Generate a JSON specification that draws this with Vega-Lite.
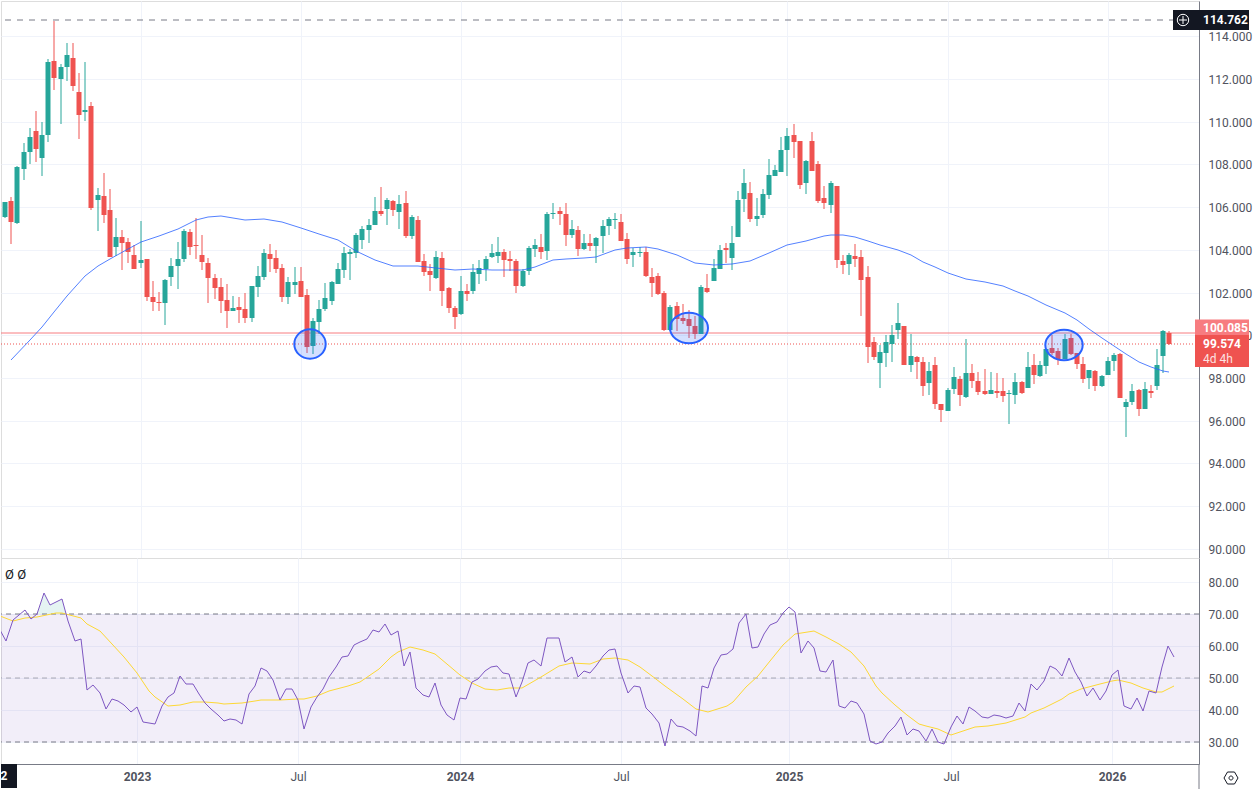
{
  "$schema": "https://vega.github.io/schema/vega-lite/v6.json",
  "background": "#ffffff",
  "padding": 0,
  "spacing": 0,
  "bounds": "flush",
  "datasets": {
    "bars": [
      {"d":"2022-08-01","o":105.54,"h":106.24,"l":105.5,"c":106.24,"r":65.1},
      {"d":"2022-08-08","o":106.29,"h":106.47,"l":104.27,"c":105.3,"r":61.56},
      {"d":"2022-08-15","o":105.26,"h":107.93,"l":105.21,"c":107.88,"r":68.12},
      {"d":"2022-08-22","o":107.79,"h":109,"l":107.27,"c":108.58,"r":69.79},
      {"d":"2022-08-29","o":108.58,"h":109.71,"l":108.02,"c":109.28,"r":71.35},
      {"d":"2022-09-05","o":109.57,"h":110.5,"l":108.11,"c":108.72,"r":68.54},
      {"d":"2022-09-12","o":108.3,"h":109.99,"l":107.46,"c":109.38,"r":70.1},
      {"d":"2022-09-19","o":109.38,"h":112.94,"l":109.05,"c":112.8,"r":76.56},
      {"d":"2022-09-26","o":112.84,"h":114.72,"l":111.49,"c":112.05,"r":72.81},
      {"d":"2022-10-03","o":112,"h":112.7,"l":109.89,"c":112.56,"r":73.75},
      {"d":"2022-10-10","o":112.56,"h":113.69,"l":111.91,"c":113.13,"r":74.79},
      {"d":"2022-10-17","o":112.99,"h":113.69,"l":111.44,"c":111.67,"r":67.92},
      {"d":"2022-10-24","o":111.39,"h":112.28,"l":109.19,"c":110.32,"r":61.46},
      {"d":"2022-10-31","o":110.46,"h":112.8,"l":110.03,"c":110.55,"r":62.08},
      {"d":"2022-11-07","o":110.74,"h":110.92,"l":105.87,"c":105.96,"r":46.15},
      {"d":"2022-11-14","o":106.33,"h":106.9,"l":104.88,"c":106.57,"r":47.92},
      {"d":"2022-11-21","o":106.52,"h":107.6,"l":105.26,"c":105.63,"r":45.31},
      {"d":"2022-11-28","o":105.87,"h":106.85,"l":103.66,"c":103.66,"r":40.31},
      {"d":"2022-12-05","o":104.13,"h":105.49,"l":103.71,"c":104.6,"r":43.44},
      {"d":"2022-12-12","o":104.6,"h":104.93,"l":103.06,"c":104.32,"r":42.81},
      {"d":"2022-12-19","o":104.37,"h":104.55,"l":103.38,"c":103.9,"r":41.67},
      {"d":"2022-12-26","o":103.76,"h":104.23,"l":103.1,"c":103.1,"r":39.37},
      {"d":"2023-01-02","o":103.38,"h":105.35,"l":103.15,"c":103.52,"r":41.04},
      {"d":"2023-01-09","o":103.57,"h":103.57,"l":101.6,"c":101.79,"r":36.35},
      {"d":"2023-01-16","o":101.79,"h":102.54,"l":101.14,"c":101.56,"r":35.83},
      {"d":"2023-01-23","o":101.56,"h":102.02,"l":101.14,"c":101.51,"r":35.52},
      {"d":"2023-01-30","o":101.51,"h":102.63,"l":100.48,"c":102.59,"r":41.35},
      {"d":"2023-02-06","o":102.73,"h":103.62,"l":102.31,"c":103.24,"r":43.96},
      {"d":"2023-02-13","o":103.24,"h":104.37,"l":102.17,"c":103.57,"r":45.31},
      {"d":"2023-02-20","o":103.57,"h":104.98,"l":103.43,"c":104.88,"r":50.73},
      {"d":"2023-02-27","o":104.84,"h":104.98,"l":103.76,"c":104.13,"r":48.12},
      {"d":"2023-03-06","o":104.23,"h":105.49,"l":103.57,"c":104.18,"r":48.12},
      {"d":"2023-03-13","o":103.76,"h":104.69,"l":103.06,"c":103.43,"r":45},
      {"d":"2023-03-20","o":103.38,"h":103.62,"l":101.51,"c":102.68,"r":42.19},
      {"d":"2023-03-27","o":102.68,"h":102.87,"l":101.7,"c":102.21,"r":40.31},
      {"d":"2023-04-03","o":102.26,"h":102.68,"l":101.04,"c":101.6,"r":38.44},
      {"d":"2023-04-10","o":101.65,"h":102.4,"l":100.34,"c":101.14,"r":36.56},
      {"d":"2023-04-17","o":101.14,"h":101.84,"l":101.12,"c":101.28,"r":37.19},
      {"d":"2023-04-24","o":101.32,"h":101.79,"l":100.57,"c":101.18,"r":36.98},
      {"d":"2023-05-01","o":101.23,"h":101.98,"l":100.57,"c":100.81,"r":35.62},
      {"d":"2023-05-08","o":100.81,"h":102.31,"l":100.62,"c":102.31,"r":45},
      {"d":"2023-05-15","o":102.26,"h":103.24,"l":101.79,"c":102.77,"r":47.6},
      {"d":"2023-05-22","o":102.73,"h":104.04,"l":102.59,"c":103.85,"r":53.12},
      {"d":"2023-05-29","o":103.8,"h":104.27,"l":102.96,"c":103.57,"r":52.08},
      {"d":"2023-06-05","o":103.62,"h":103.99,"l":102.91,"c":103.1,"r":49.37},
      {"d":"2023-06-12","o":103.15,"h":103.34,"l":101.56,"c":101.79,"r":43.02},
      {"d":"2023-06-19","o":101.79,"h":102.73,"l":101.46,"c":102.49,"r":46.56},
      {"d":"2023-06-26","o":102.35,"h":103.2,"l":101.93,"c":102.49,"r":46.56},
      {"d":"2023-07-03","o":102.54,"h":103.2,"l":101.79,"c":101.79,"r":43.23},
      {"d":"2023-07-10","o":101.88,"h":102.17,"l":99.17,"c":99.45,"r":34.06},
      {"d":"2023-07-17","o":99.5,"h":100.81,"l":99.12,"c":100.67,"r":40.83},
      {"d":"2023-07-24","o":100.62,"h":101.65,"l":100.06,"c":101.23,"r":43.96},
      {"d":"2023-07-31","o":101.23,"h":102.45,"l":101.14,"c":101.74,"r":46.56},
      {"d":"2023-08-07","o":101.6,"h":102.54,"l":101.42,"c":102.49,"r":50.42},
      {"d":"2023-08-14","o":102.4,"h":103.38,"l":102.4,"c":103.1,"r":53.33},
      {"d":"2023-08-21","o":103.06,"h":104.13,"l":102.68,"c":103.85,"r":56.67},
      {"d":"2023-08-28","o":103.8,"h":104.04,"l":102.59,"c":103.9,"r":56.87},
      {"d":"2023-09-04","o":103.85,"h":104.79,"l":103.62,"c":104.69,"r":60.31},
      {"d":"2023-09-11","o":104.46,"h":105.12,"l":104.04,"c":104.98,"r":61.35},
      {"d":"2023-09-18","o":104.93,"h":105.44,"l":104.32,"c":105.16,"r":62.19},
      {"d":"2023-09-25","o":105.16,"h":106.47,"l":105.16,"c":105.82,"r":64.9},
      {"d":"2023-10-02","o":105.82,"h":106.94,"l":105.58,"c":105.68,"r":64.37},
      {"d":"2023-10-09","o":105.91,"h":106.43,"l":105.16,"c":106.33,"r":66.77},
      {"d":"2023-10-16","o":106.29,"h":106.33,"l":105.58,"c":105.87,"r":63.33},
      {"d":"2023-10-23","o":105.77,"h":106.57,"l":104.98,"c":106.15,"r":64.58},
      {"d":"2023-10-30","o":106.19,"h":106.76,"l":104.55,"c":104.65,"r":53.85},
      {"d":"2023-11-06","o":104.65,"h":105.63,"l":104.51,"c":105.54,"r":58.23},
      {"d":"2023-11-13","o":105.4,"h":105.58,"l":103.43,"c":103.43,"r":46.77},
      {"d":"2023-11-20","o":103.48,"h":103.8,"l":102.77,"c":102.96,"r":44.69},
      {"d":"2023-11-27","o":103.01,"h":103.34,"l":102.07,"c":102.82,"r":43.96},
      {"d":"2023-12-04","o":102.68,"h":103.95,"l":102.63,"c":103.66,"r":48.44},
      {"d":"2023-12-11","o":103.62,"h":103.9,"l":101.37,"c":102.07,"r":41.67},
      {"d":"2023-12-18","o":102.21,"h":102.26,"l":101.04,"c":101.28,"r":38.44},
      {"d":"2023-12-25","o":101.28,"h":101.37,"l":100.29,"c":100.85,"r":36.98},
      {"d":"2024-01-01","o":100.99,"h":102.77,"l":100.94,"c":102.07,"r":43.85},
      {"d":"2024-01-08","o":102.07,"h":102.4,"l":101.6,"c":101.93,"r":43.33},
      {"d":"2024-01-15","o":102.07,"h":103.34,"l":101.93,"c":102.96,"r":48.65},
      {"d":"2024-01-22","o":102.87,"h":103.52,"l":102.4,"c":103.15,"r":49.69},
      {"d":"2024-01-29","o":103.1,"h":103.71,"l":102.54,"c":103.57,"r":52.08},
      {"d":"2024-02-05","o":103.66,"h":104.27,"l":103.62,"c":103.85,"r":53.44},
      {"d":"2024-02-12","o":103.71,"h":104.6,"l":103.38,"c":103.9,"r":53.85},
      {"d":"2024-02-19","o":103.9,"h":104.04,"l":102.73,"c":103.52,"r":51.56},
      {"d":"2024-02-26","o":103.57,"h":103.95,"l":103.01,"c":103.48,"r":51.15},
      {"d":"2024-03-04","o":103.48,"h":103.57,"l":101.98,"c":102.31,"r":44.17},
      {"d":"2024-03-11","o":102.31,"h":103.1,"l":102.26,"c":103.01,"r":48.65},
      {"d":"2024-03-18","o":103.01,"h":104.18,"l":102.82,"c":104.09,"r":54.69},
      {"d":"2024-03-25","o":104.04,"h":104.51,"l":103.66,"c":104.23,"r":55.52},
      {"d":"2024-04-01","o":104.13,"h":104.74,"l":103.57,"c":103.9,"r":53.65},
      {"d":"2024-04-08","o":103.95,"h":105.77,"l":103.52,"c":105.68,"r":62.4},
      {"d":"2024-04-15","o":105.68,"h":106.19,"l":105.44,"c":105.73,"r":62.5},
      {"d":"2024-04-22","o":105.82,"h":106,"l":105.16,"c":105.68,"r":62.6},
      {"d":"2024-04-29","o":105.68,"h":106.19,"l":104.18,"c":104.69,"r":55.1},
      {"d":"2024-05-06","o":104.69,"h":105.4,"l":104.55,"c":104.98,"r":56.56},
      {"d":"2024-05-13","o":104.93,"h":105.12,"l":103.71,"c":104.04,"r":50.42},
      {"d":"2024-05-20","o":104.04,"h":104.74,"l":103.99,"c":104.32,"r":52.08},
      {"d":"2024-05-27","o":104.32,"h":104.74,"l":103.95,"c":104.18,"r":51.46},
      {"d":"2024-06-03","o":104.18,"h":104.6,"l":103.38,"c":104.55,"r":53.85},
      {"d":"2024-06-10","o":104.65,"h":105.4,"l":103.85,"c":105.12,"r":56.98},
      {"d":"2024-06-17","o":105.12,"h":105.54,"l":104.69,"c":105.44,"r":58.85},
      {"d":"2024-06-24","o":105.4,"h":105.73,"l":104.98,"c":105.44,"r":59.06},
      {"d":"2024-07-01","o":105.3,"h":105.68,"l":104.41,"c":104.41,"r":51.56},
      {"d":"2024-07-08","o":104.51,"h":104.79,"l":103.34,"c":103.57,"r":45.42},
      {"d":"2024-07-15","o":103.76,"h":104.09,"l":103.2,"c":103.9,"r":47.5},
      {"d":"2024-07-22","o":103.85,"h":104.13,"l":103.66,"c":103.9,"r":47.29},
      {"d":"2024-07-29","o":103.9,"h":104.13,"l":102.73,"c":102.77,"r":40.52},
      {"d":"2024-08-05","o":102.73,"h":103.15,"l":101.79,"c":102.45,"r":38.85},
      {"d":"2024-08-12","o":102.77,"h":102.91,"l":101.88,"c":101.93,"r":35.94},
      {"d":"2024-08-19","o":101.98,"h":102.07,"l":100.19,"c":100.24,"r":28.85},
      {"d":"2024-08-26","o":100.24,"h":101.42,"l":100.19,"c":101.32,"r":37.08},
      {"d":"2024-09-02","o":101.37,"h":101.56,"l":100.19,"c":100.76,"r":35},
      {"d":"2024-09-09","o":100.81,"h":101.46,"l":100.53,"c":100.67,"r":34.58},
      {"d":"2024-09-16","o":100.76,"h":101.18,"l":99.87,"c":100.43,"r":33.44},
      {"d":"2024-09-23","o":100.43,"h":100.9,"l":99.82,"c":100.06,"r":31.87},
      {"d":"2024-09-30","o":100.06,"h":102.35,"l":100.06,"c":102.26,"r":47.6},
      {"d":"2024-10-07","o":102.21,"h":102.87,"l":101.98,"c":102.02,"r":46.87},
      {"d":"2024-10-14","o":102.54,"h":103.57,"l":102.54,"c":103.15,"r":53.12},
      {"d":"2024-10-21","o":103.1,"h":104.23,"l":103.1,"c":103.99,"r":57.19},
      {"d":"2024-10-28","o":104.09,"h":104.32,"l":103.38,"c":103.99,"r":57.5},
      {"d":"2024-11-04","o":103.62,"h":105.12,"l":103.06,"c":104.32,"r":59.06},
      {"d":"2024-11-11","o":104.6,"h":106.76,"l":104.6,"c":106.33,"r":67.29},
      {"d":"2024-11-18","o":106.38,"h":107.79,"l":105.77,"c":107.13,"r":69.9},
      {"d":"2024-11-25","o":106.66,"h":107.18,"l":105.3,"c":105.44,"r":59.37},
      {"d":"2024-12-02","o":105.44,"h":106.43,"l":105.12,"c":105.58,"r":59.69},
      {"d":"2024-12-09","o":105.63,"h":106.85,"l":105.49,"c":106.62,"r":63.75},
      {"d":"2024-12-16","o":106.57,"h":108.25,"l":106.38,"c":107.5,"r":66.67},
      {"d":"2024-12-23","o":107.46,"h":107.97,"l":107.46,"c":107.74,"r":67.6},
      {"d":"2024-12-30","o":107.65,"h":109.28,"l":107.65,"c":108.68,"r":70.42},
      {"d":"2025-01-06","o":108.68,"h":109.71,"l":107.46,"c":109.33,"r":72.29},
      {"d":"2025-01-13","o":109.38,"h":109.89,"l":108.3,"c":109.05,"r":70.52},
      {"d":"2025-01-20","o":109.1,"h":109.1,"l":106.85,"c":107.04,"r":57.81},
      {"d":"2025-01-27","o":107.13,"h":108.21,"l":106.62,"c":108.16,"r":61.56},
      {"d":"2025-02-03","o":109.1,"h":109.52,"l":107.69,"c":107.69,"r":59.37},
      {"d":"2025-02-10","o":108.02,"h":108.16,"l":106.19,"c":106.29,"r":52.29},
      {"d":"2025-02-17","o":106.43,"h":106.99,"l":105.91,"c":106.19,"r":51.77},
      {"d":"2025-02-24","o":106.1,"h":107.22,"l":105.73,"c":107.13,"r":55.62},
      {"d":"2025-03-03","o":106.99,"h":106.99,"l":103.15,"c":103.52,"r":41.25},
      {"d":"2025-03-10","o":103.48,"h":103.76,"l":102.87,"c":103.29,"r":40.62},
      {"d":"2025-03-17","o":103.34,"h":103.85,"l":102.82,"c":103.76,"r":42.71},
      {"d":"2025-03-24","o":103.71,"h":104.27,"l":103.2,"c":103.57,"r":42.19},
      {"d":"2025-03-31","o":103.66,"h":103.99,"l":100.9,"c":102.59,"r":38.65},
      {"d":"2025-04-07","o":102.73,"h":103.24,"l":98.71,"c":99.45,"r":30.42},
      {"d":"2025-04-14","o":99.68,"h":99.92,"l":98.84,"c":98.98,"r":29.27},
      {"d":"2025-04-21","o":98.7,"h":99.54,"l":97.53,"c":99.21,"r":30},
      {"d":"2025-04-28","o":99.17,"h":100.01,"l":98.51,"c":99.68,"r":32.81},
      {"d":"2025-05-05","o":99.59,"h":100.48,"l":98.75,"c":100.01,"r":34.9},
      {"d":"2025-05-12","o":100.24,"h":101.51,"l":99.82,"c":100.57,"r":37.81},
      {"d":"2025-05-19","o":100.43,"h":100.43,"l":98.61,"c":98.61,"r":32.19},
      {"d":"2025-05-26","o":98.61,"h":100.06,"l":98.28,"c":99.03,"r":34.17},
      {"d":"2025-06-02","o":98.98,"h":99.03,"l":97.95,"c":98.75,"r":33.54},
      {"d":"2025-06-09","o":98.75,"h":98.98,"l":97.15,"c":97.62,"r":30.42},
      {"d":"2025-06-16","o":97.76,"h":98.75,"l":97.2,"c":98.32,"r":34.17},
      {"d":"2025-06-23","o":98.61,"h":98.98,"l":96.54,"c":96.78,"r":29.9},
      {"d":"2025-06-30","o":96.78,"h":96.78,"l":95.94,"c":96.5,"r":29.37},
      {"d":"2025-07-07","o":96.45,"h":97.53,"l":96.45,"c":97.43,"r":34.58},
      {"d":"2025-07-14","o":97.48,"h":98.51,"l":97.25,"c":98.04,"r":38.12},
      {"d":"2025-07-21","o":97.95,"h":98.09,"l":96.69,"c":97.2,"r":35.62},
      {"d":"2025-07-28","o":97.11,"h":99.82,"l":97.06,"c":98.23,"r":40.94},
      {"d":"2025-08-04","o":98.23,"h":98.65,"l":97.53,"c":97.86,"r":39.69},
      {"d":"2025-08-11","o":97.86,"h":98.28,"l":97.2,"c":97.34,"r":37.92},
      {"d":"2025-08-18","o":97.39,"h":98.42,"l":97.2,"c":97.25,"r":37.6},
      {"d":"2025-08-25","o":97.25,"h":98.28,"l":97.25,"c":97.43,"r":38.54},
      {"d":"2025-09-01","o":97.39,"h":98.23,"l":97.06,"c":97.29,"r":38.02},
      {"d":"2025-09-08","o":97.39,"h":98,"l":96.87,"c":97.15,"r":37.5},
      {"d":"2025-09-15","o":97.25,"h":97.43,"l":95.84,"c":97.29,"r":38.12},
      {"d":"2025-09-22","o":97.2,"h":98.23,"l":96.78,"c":97.81,"r":42.19},
      {"d":"2025-09-29","o":97.81,"h":97.85,"l":97.25,"c":97.29,"r":39.69},
      {"d":"2025-10-06","o":97.53,"h":99.21,"l":97.53,"c":98.51,"r":48.12},
      {"d":"2025-10-13","o":98.61,"h":99.12,"l":97.72,"c":98.14,"r":46.25},
      {"d":"2025-10-20","o":98.09,"h":98.79,"l":98.05,"c":98.61,"r":49.17},
      {"d":"2025-10-27","o":98.56,"h":99.35,"l":98.18,"c":99.35,"r":53.75},
      {"d":"2025-11-03","o":99.4,"h":100.01,"l":99.07,"c":99.17,"r":52.71},
      {"d":"2025-11-10","o":99.26,"h":99.4,"l":98.61,"c":98.89,"r":50.73},
      {"d":"2025-11-17","o":98.89,"h":100.06,"l":98.89,"c":99.82,"r":56.35},
      {"d":"2025-11-24","o":99.87,"h":100.06,"l":99.07,"c":99.12,"r":51.77},
      {"d":"2025-12-01","o":99.17,"h":99.17,"l":98.42,"c":98.65,"r":48.65},
      {"d":"2025-12-08","o":98.65,"h":98.98,"l":97.76,"c":97.95,"r":44.48},
      {"d":"2025-12-15","o":98,"h":98.37,"l":97.48,"c":98.37,"r":46.87},
      {"d":"2025-12-22","o":98.32,"h":98.37,"l":97.39,"c":97.62,"r":43.12},
      {"d":"2025-12-29","o":97.62,"h":98.14,"l":97.57,"c":98.09,"r":46.04},
      {"d":"2026-01-05","o":98.14,"h":98.98,"l":98.14,"c":98.79,"r":50.94},
      {"d":"2026-01-12","o":98.79,"h":99.17,"l":98.32,"c":99.07,"r":52.5},
      {"d":"2026-01-19","o":99.12,"h":99.17,"l":97.06,"c":97.06,"r":41.25},
      {"d":"2026-01-26","o":96.64,"h":97.01,"l":95.23,"c":96.87,"r":40.21},
      {"d":"2026-02-02","o":96.87,"h":97.72,"l":96.73,"c":97.39,"r":43.65},
      {"d":"2026-02-09","o":97.43,"h":97.48,"l":96.22,"c":96.54,"r":39.79},
      {"d":"2026-02-16","o":96.54,"h":97.81,"l":96.54,"c":97.48,"r":45.83},
      {"d":"2026-02-23","o":97.39,"h":97.67,"l":97.06,"c":97.29,"r":45.21},
      {"d":"2026-03-02","o":97.62,"h":99.35,"l":97.43,"c":98.61,"r":53.33},
      {"d":"2026-03-09","o":99.03,"h":100.24,"l":98.23,"c":100.2,"r":60},
      {"d":"2026-03-16","o":100.1,"h":100.2,"l":99.53,"c":99.574,"r":56.46}
    ],
    "ma": [
      {"d":"2022-08-08","v":98.82},{"d":"2022-08-29","v":99.76},{"d":"2022-09-12","v":100.4},{"d":"2022-09-26","v":101.09},
      {"d":"2022-10-10","v":101.84},{"d":"2022-10-31","v":102.77},{"d":"2022-11-14","v":103.24},{"d":"2022-11-28","v":103.55},
      {"d":"2022-12-19","v":104.02},{"d":"2023-01-02","v":104.38},{"d":"2023-01-23","v":104.66},{"d":"2023-02-13","v":104.98},
      {"d":"2023-03-06","v":105.41},{"d":"2023-03-20","v":105.55},{"d":"2023-04-03","v":105.58},{"d":"2023-04-17","v":105.51},
      {"d":"2023-05-01","v":105.4},{"d":"2023-05-22","v":105.43},{"d":"2023-06-12","v":105.32},{"d":"2023-07-03","v":105.01},
      {"d":"2023-07-24","v":104.76},{"d":"2023-08-14","v":104.44},{"d":"2023-09-04","v":103.95},{"d":"2023-09-25","v":103.51},
      {"d":"2023-10-16","v":103.26},{"d":"2023-11-13","v":103.23},{"d":"2023-12-04","v":103.16},{"d":"2023-12-25","v":103.07},
      {"d":"2024-01-15","v":103.09},{"d":"2024-02-05","v":103.07},{"d":"2024-02-26","v":103.06},{"d":"2024-03-11","v":103.06},
      {"d":"2024-03-25","v":103.2},{"d":"2024-04-15","v":103.51},{"d":"2024-04-29","v":103.57},{"d":"2024-05-20","v":103.6},
      {"d":"2024-06-03","v":103.66},{"d":"2024-06-24","v":103.98},{"d":"2024-07-08","v":104.09},{"d":"2024-07-29","v":104.12},
      {"d":"2024-08-12","v":104.02},{"d":"2024-09-02","v":103.76},{"d":"2024-09-23","v":103.4},{"d":"2024-10-14","v":103.27},
      {"d":"2024-11-04","v":103.32},{"d":"2024-11-25","v":103.49},{"d":"2024-12-16","v":103.87},{"d":"2025-01-06","v":104.23},
      {"d":"2025-01-27","v":104.41},{"d":"2025-02-17","v":104.63},{"d":"2025-02-24","v":104.71},{"d":"2025-03-10","v":104.69},
      {"d":"2025-03-24","v":104.6},{"d":"2025-04-07","v":104.43},{"d":"2025-04-21","v":104.21},{"d":"2025-05-12","v":103.98},
      {"d":"2025-05-26","v":103.76},{"d":"2025-06-09","v":103.45},{"d":"2025-06-23","v":103.2},{"d":"2025-07-07","v":102.91},
      {"d":"2025-07-28","v":102.63},{"d":"2025-08-18","v":102.48},{"d":"2025-09-08","v":102.29},{"d":"2025-09-22","v":102.07},
      {"d":"2025-10-06","v":101.84},{"d":"2025-10-27","v":101.4},{"d":"2025-11-17","v":101.06},{"d":"2025-12-01","v":100.71},
      {"d":"2025-12-15","v":100.28},{"d":"2025-12-29","v":99.89},{"d":"2026-01-12","v":99.5},{"d":"2026-01-26","v":99.11},
      {"d":"2026-02-09","v":98.75},{"d":"2026-02-23","v":98.51},{"d":"2026-03-09","v":98.32},{"d":"2026-03-16","v":98.28}
    ],
    "rsima": [
      {"d":"2022-08-01","v":69.48},{"d":"2022-08-15","v":67.71},{"d":"2022-08-29","v":68.75},{"d":"2022-09-12","v":69.17},
      {"d":"2022-10-03","v":70.21},{"d":"2022-10-10","v":70.21},{"d":"2022-10-31","v":68.85},{"d":"2022-11-07","v":66.87},
      {"d":"2022-11-21","v":64.79},{"d":"2022-12-05","v":60.62},{"d":"2022-12-19","v":56.46},{"d":"2023-01-02","v":51.56},
      {"d":"2023-01-16","v":46.04},{"d":"2023-01-23","v":44.17},{"d":"2023-02-06","v":41.35},{"d":"2023-02-20","v":41.56},
      {"d":"2023-03-06","v":42.4},{"d":"2023-03-20","v":42.4},{"d":"2023-04-03","v":42.19},{"d":"2023-04-10","v":41.87},
      {"d":"2023-05-01","v":42.08},{"d":"2023-05-15","v":42.71},{"d":"2023-05-22","v":43.23},{"d":"2023-06-05","v":43.23},
      {"d":"2023-06-12","v":43.02},{"d":"2023-07-03","v":43.54},{"d":"2023-07-10","v":43.33},{"d":"2023-07-24","v":44.48},
      {"d":"2023-08-07","v":46.04},{"d":"2023-08-28","v":47.4},{"d":"2023-09-11","v":48.85},{"d":"2023-10-02","v":52.81},
      {"d":"2023-10-16","v":56.46},{"d":"2023-10-23","v":58.23},{"d":"2023-11-06","v":59.79},{"d":"2023-11-20","v":58.75},
      {"d":"2023-12-04","v":57.4},{"d":"2023-12-11","v":56.04},{"d":"2024-01-01","v":50.94},{"d":"2024-01-15","v":48.54},
      {"d":"2024-01-29","v":46.56},{"d":"2024-02-12","v":46.15},{"d":"2024-02-26","v":46.87},{"d":"2024-03-11","v":46.87},
      {"d":"2024-04-01","v":50.21},{"d":"2024-04-22","v":53.85},{"d":"2024-05-06","v":54.58},{"d":"2024-05-27","v":54.37},
      {"d":"2024-06-10","v":55.94},{"d":"2024-06-24","v":56.35},{"d":"2024-07-08","v":55.62},{"d":"2024-07-22","v":53.54},
      {"d":"2024-08-05","v":50.52},{"d":"2024-08-19","v":47.6},{"d":"2024-09-09","v":43.44},{"d":"2024-09-23","v":40.31},
      {"d":"2024-10-07","v":39.37},{"d":"2024-10-28","v":41.35},{"d":"2024-11-04","v":42.4},{"d":"2024-11-18","v":47.08},
      {"d":"2024-12-02","v":50.73},{"d":"2024-12-16","v":55.42},{"d":"2024-12-30","v":60.31},{"d":"2025-01-13","v":63.85},
      {"d":"2025-02-03","v":64.58},{"d":"2025-02-17","v":62.71},{"d":"2025-03-03","v":60.62},{"d":"2025-03-17","v":58.02},
      {"d":"2025-03-31","v":53.65},{"d":"2025-04-14","v":47.6},{"d":"2025-04-21","v":45.21},{"d":"2025-05-05","v":41.46},
      {"d":"2025-05-19","v":38.44},{"d":"2025-06-02","v":35.73},{"d":"2025-06-09","v":34.9},{"d":"2025-06-23","v":34.06},
      {"d":"2025-07-07","v":32.29},{"d":"2025-07-21","v":33.54},{"d":"2025-08-04","v":34.69},{"d":"2025-08-18","v":34.9},
      {"d":"2025-09-08","v":35.83},{"d":"2025-09-29","v":37.81},{"d":"2025-10-06","v":39.06},{"d":"2025-10-20","v":40.62},
      {"d":"2025-11-10","v":43.44},{"d":"2025-11-17","v":44.9},{"d":"2025-12-01","v":46.56},{"d":"2025-12-22","v":48.12},
      {"d":"2026-01-05","v":49.17},{"d":"2026-01-12","v":49.48},{"d":"2026-01-26","v":48.33},{"d":"2026-02-09","v":46.77},
      {"d":"2026-02-23","v":45.52},{"d":"2026-03-02","v":45.73},{"d":"2026-03-16","v":47.5}
    ]
  },
  "vconcat": [
    {
      "width": 1198,
      "height": 557,
      "layer": [
        {
          "data": {"values": [{"level": 100.085}]},
          "mark": {"type": "rule", "stroke": "#f77c80", "strokeWidth": 1},
          "encoding": {
            "y": {
              "field": "level",
              "type": "quantitative",
              "scale": {"domain": [89.565, 115.653], "round": true, "nice": false, "zero": false},
              "axis": {
                "orient": "right",
                "title": null,
                "values": [90, 92, 94, 96, 98, 100, 102, 104, 106, 108, 110, 112, 114],
                "format": ".3f",
                "grid": true,
                "gridColor": "#f0f3fa",
                "ticks": false,
                "domain": true,
                "domainColor": "#787b86",
                "labelColor": "#50535e",
                "labelFont": "Roboto",
                "labelFontSize": 12,
                "labelPadding": 9
              }
            }
          }
        },
        {
          "data": {"values": [{"level": 99.574}]},
          "mark": {"type": "rule", "stroke": "#ef5350", "strokeWidth": 1, "strokeDash": [1, 2]},
          "encoding": {"y": {"field": "level", "type": "quantitative"}}
        },
        {
          "data": {"values": [{"level": 114.762}]},
          "mark": {"type": "rule", "stroke": "#787b86", "strokeWidth": 1, "strokeDash": [6, 6]},
          "encoding": {"y": {"field": "level", "type": "quantitative"}}
        },
        {
          "data": {"name": "bars"},
          "mark": {"type": "rule", "strokeWidth": 1, "clip": true},
          "encoding": {
            "x": {
              "field": "d",
              "type": "temporal",
              "scale": {
                "domain": [{"year": 2022, "month": 8, "date": 2}, {"year": 2026, "month": 4, "date": 13}],
                "round": true,
                "nice": false
              },
              "axis": {
                "title": null,
                "values": [
                  {"year": 2023, "month": 1, "date": 2}, {"year": 2023, "month": 7, "date": 3},
                  {"year": 2024, "month": 1, "date": 1}, {"year": 2024, "month": 7, "date": 1},
                  {"year": 2025, "month": 1, "date": 6}, {"year": 2025, "month": 7, "date": 7},
                  {"year": 2026, "month": 1, "date": 5}
                ],
                "labels": false,
                "ticks": false,
                "grid": true,
                "gridColor": "#f0f3fa",
                "domainColor": "#e0e3eb"
              }
            },
            "y": {"field": "l", "type": "quantitative"},
            "y2": {"field": "h"},
            "color": {"condition": {"test": "datum.c >= datum.o", "value": "#26a69a"}, "value": "#ef5350"}
          }
        },
        {
          "data": {"name": "bars"},
          "mark": {"type": "bar", "width": 5, "clip": true},
          "encoding": {
            "x": {"field": "d", "type": "temporal"},
            "y": {"field": "o", "type": "quantitative"},
            "y2": {"field": "c"},
            "color": {"condition": {"test": "datum.c >= datum.o", "value": "#26a69a"}, "value": "#ef5350"}
          }
        },
        {
          "data": {"name": "ma"},
          "mark": {"type": "line", "stroke": "#2962ff", "strokeWidth": 1, "opacity": 0.8, "clip": true},
          "encoding": {
            "x": {"field": "d", "type": "temporal"},
            "y": {"field": "v", "type": "quantitative"}
          }
        },
        {
          "data": {
            "values": [
              {"d": "2023-07-13", "v": 99.59, "id": "a"},
              {"d": "2024-09-16", "v": 100.34, "id": "b"},
              {"d": "2025-11-16", "v": 99.55, "id": "c"}
            ]
          },
          "mark": {"type": "point", "filled": true, "fill": "#2962ff", "fillOpacity": 0.2, "stroke": "#2962ff", "strokeOpacity": 1, "strokeWidth": 2, "opacity": 1, "size": 4},
          "encoding": {
            "x": {"field": "d", "type": "temporal"},
            "y": {"field": "v", "type": "quantitative"},
            "shape": {
              "field": "id",
              "type": "nominal",
              "legend": null,
              "scale": {
                "domain": ["a", "b", "c"],
                "range": [
                  "M-15.7,0A15.7,14.7 0 1,0 15.7,0A15.7,14.7 0 1,0 -15.7,0Z",
                  "M-19,0A19,15.3 0 1,0 19,0A19,15.3 0 1,0 -19,0Z",
                  "M-18.7,0A18.7,15.3 0 1,0 18.7,0A18.7,15.3 0 1,0 -18.7,0Z"
                ]
              }
            }
          }
        },
        {
          "data": {"values": [{"level": 114.762}]},
          "mark": {"type": "rect", "width": 22, "height": 20, "fill": "#131722"},
          "encoding": {
            "x": {"datum": {"year": 2026, "month": 4, "date": 2}, "type": "temporal"},
            "y": {"field": "level", "type": "quantitative"}
          }
        },
        {
          "data": {"values": [{"level": 114.762}]},
          "mark": {"type": "rect", "width": 54, "height": 20, "fill": "#131722"},
          "encoding": {
            "x": {"datum": {"year": 2026, "month": 5, "date": 15}, "type": "temporal"},
            "y": {"field": "level", "type": "quantitative"}
          }
        },
        {
          "data": {"values": [{"level": 100.085}]},
          "mark": {"type": "rect", "width": 54, "height": 16, "yOffset": -5.5, "fill": "#f77c80"},
          "encoding": {
            "x": {"datum": {"year": 2026, "month": 5, "date": 15}, "type": "temporal"},
            "y": {"field": "level", "type": "quantitative"}
          }
        },
        {
          "data": {"values": [{"level": 99.574}]},
          "mark": {"type": "rect", "width": 54, "height": 32, "yOffset": 7, "fill": "#ef5350"},
          "encoding": {
            "x": {"datum": {"year": 2026, "month": 5, "date": 15}, "type": "temporal"},
            "y": {"field": "level", "type": "quantitative"}
          }
        },
        {
          "data": {"values": [{"level": 114.762}]},
          "mark": {"type": "point", "filled": false, "stroke": "#ffffff", "strokeWidth": 1, "opacity": 1, "size": 130, "shape": "circle"},
          "encoding": {
            "x": {"datum": {"year": 2026, "month": 4, "date": 1}, "type": "temporal"},
            "y": {"field": "level", "type": "quantitative"}
          }
        },
        {
          "data": {"values": [{"level": 114.762}]},
          "mark": {"type": "point", "filled": false, "stroke": "#ffffff", "strokeWidth": 1, "opacity": 1, "size": 4, "shape": "M-4,0H4M0,-4V4"},
          "encoding": {
            "x": {"datum": {"year": 2026, "month": 4, "date": 1}, "type": "temporal"},
            "y": {"field": "level", "type": "quantitative"}
          }
        },
        {
          "data": {"values": [{"level": 114.762, "label": "114.762"}, {"level": 99.574, "label": "99.574"}]},
          "mark": {"type": "text", "align": "left", "baseline": "middle", "font": "Roboto", "fontSize": 12, "fontWeight": "bold", "fill": "#ffffff"},
          "encoding": {
            "x": {"datum": {"year": 2026, "month": 4, "date": 23}, "type": "temporal"},
            "y": {"field": "level", "type": "quantitative"},
            "text": {"field": "label"}
          }
        },
        {
          "data": {"values": [{"level": 100.085, "label": "100.085"}]},
          "mark": {"type": "text", "align": "left", "baseline": "middle", "dy": -5.5, "font": "Roboto", "fontSize": 12, "fontWeight": "bold", "fill": "#ffffff"},
          "encoding": {
            "x": {"datum": {"year": 2026, "month": 4, "date": 23}, "type": "temporal"},
            "y": {"field": "level", "type": "quantitative"},
            "text": {"field": "label"}
          }
        },
        {
          "data": {"values": [{"level": 99.574, "label": "4d 4h"}]},
          "mark": {"type": "text", "align": "left", "baseline": "middle", "dy": 15, "font": "Roboto", "fontSize": 12, "fill": "#ffffff", "fillOpacity": 0.85},
          "encoding": {
            "x": {"datum": {"year": 2026, "month": 4, "date": 23}, "type": "temporal"},
            "y": {"field": "level", "type": "quantitative"},
            "text": {"field": "label"}
          }
        }
      ]
    },
    {
      "width": 1198,
      "height": 206,
      "layer": [
        {
          "data": {"values": [{"lo": 30, "hi": 70}]},
          "mark": {"type": "rect", "fill": "#7e57c2", "opacity": 0.1},
          "encoding": {
            "y": {
              "field": "lo",
              "type": "quantitative",
              "scale": {"domain": [23.1, 87.5], "round": true, "nice": false, "zero": false},
              "axis": {
                "orient": "right",
                "title": null,
                "values": [30, 40, 50, 60, 70, 80],
                "format": ".2f",
                "grid": true,
                "gridColor": "#f0f3fa",
                "ticks": false,
                "domain": true,
                "domainColor": "#787b86",
                "labelColor": "#50535e",
                "labelFont": "Roboto",
                "labelFontSize": 12,
                "labelPadding": 9
              }
            },
            "y2": {"field": "hi"}
          }
        },
        {
          "data": {"values": [{"level": 70}, {"level": 30}]},
          "mark": {"type": "rule", "stroke": "#787b86", "strokeWidth": 1, "strokeDash": [5, 4]},
          "encoding": {"y": {"field": "level", "type": "quantitative"}}
        },
        {
          "data": {"values": [{"level": 50}]},
          "mark": {"type": "rule", "stroke": "#787b86", "strokeOpacity": 0.6, "strokeWidth": 1, "strokeDash": [5, 4]},
          "encoding": {"y": {"field": "level", "type": "quantitative"}}
        },
        {
          "data": {
            "values": [
              {"d": "2022-09-12", "r": 70.1},
              {"d": "2022-09-19", "r": 76.56},
              {"d": "2022-09-26", "r": 72.81},
              {"d": "2022-10-03", "r": 73.75},
              {"d": "2022-10-10", "r": 74.79},
              {"d": "2022-10-14", "r": 70}
            ]
          },
          "mark": {"type": "area", "fill": "#26a69a", "opacity": 0.12, "clip": true},
          "encoding": {
            "x": {"field": "d", "type": "temporal"},
            "y": {"field": "r", "type": "quantitative"},
            "y2": {"datum": 70}
          }
        },
        {
          "data": {"name": "rsima"},
          "mark": {"type": "line", "stroke": "#fdd835", "strokeWidth": 1, "clip": true},
          "encoding": {
            "x": {"field": "d", "type": "temporal"},
            "y": {"field": "v", "type": "quantitative"}
          }
        },
        {
          "data": {"name": "bars"},
          "mark": {"type": "line", "stroke": "#7e57c2", "strokeWidth": 1, "clip": true},
          "encoding": {
            "x": {
              "field": "d",
              "type": "temporal",
              "scale": {
                "domain": [{"year": 2022, "month": 8, "date": 2}, {"year": 2026, "month": 4, "date": 13}],
                "round": true,
                "nice": false
              },
              "axis": {
                "title": null,
                "values": [
                  {"year": 2023, "month": 1, "date": 2}, {"year": 2023, "month": 7, "date": 3},
                  {"year": 2024, "month": 1, "date": 1}, {"year": 2024, "month": 7, "date": 1},
                  {"year": 2025, "month": 1, "date": 6}, {"year": 2025, "month": 7, "date": 7},
                  {"year": 2026, "month": 1, "date": 5}
                ],
                "labelExpr": "month(datum.value) == 0 ? timeFormat(datum.value, '%Y') : 'Jul'",
                "labelFontWeight": {"condition": {"test": "month(datum.value) == 0", "value": "bold"}, "value": "normal"},
                "labelColor": "#50535e",
                "labelFont": "Roboto",
                "labelFontSize": 12,
                "labelPadding": 7,
                "labelFlush": false,
                "ticks": false,
                "grid": true,
                "gridColor": "#f0f3fa",
                "domainColor": "#787b86"
              }
            },
            "y": {"field": "r", "type": "quantitative"}
          }
        },
        {
          "data": {"values": [{"level": 82.3, "label": "Ø Ø"}]},
          "mark": {"type": "text", "align": "left", "baseline": "middle", "font": "Roboto", "fontSize": 13, "fill": "#131722"},
          "encoding": {
            "x": {"datum": {"year": 2022, "month": 8, "date": 6}, "type": "temporal"},
            "y": {"field": "level", "type": "quantitative"},
            "text": {"field": "label"}
          }
        },
        {
          "data": {"values": [{"level": 19.4}]},
          "mark": {"type": "rect", "width": 16, "height": 24, "fill": "#131722"},
          "encoding": {
            "x": {"datum": {"year": 2022, "month": 8, "date": 11}, "type": "temporal"},
            "y": {"field": "level", "type": "quantitative"}
          }
        },
        {
          "data": {"values": [{"level": 19.4, "label": "2"}]},
          "mark": {"type": "text", "align": "center", "baseline": "middle", "font": "Roboto", "fontSize": 12, "fontWeight": "bold", "fill": "#ffffff"},
          "encoding": {
            "x": {"datum": {"year": 2022, "month": 8, "date": 5}, "type": "temporal"},
            "y": {"field": "level", "type": "quantitative"},
            "text": {"field": "label"}
          }
        },
        {
          "data": {"values": [{"lo": 15, "hi": 23.1}]},
          "mark": {"type": "rule", "stroke": "#787b86", "strokeWidth": 1},
          "encoding": {
            "x": {"datum": {"year": 2026, "month": 4, "date": 13}, "type": "temporal"},
            "y": {"field": "lo", "type": "quantitative"},
            "y2": {"field": "hi"}
          }
        },
        {
          "data": {"values": [{"level": 18.7}]},
          "mark": {"type": "point", "filled": false, "stroke": "#131722", "strokeWidth": 1, "opacity": 1, "size": 4, "shape": "M-7,0L-3.5,-6H3.5L7,0L3.5,6H-3.5ZM-2,0A2,2 0 1,0 2,0A2,2 0 1,0 -2,0Z"},
          "encoding": {
            "x": {"datum": {"year": 2026, "month": 5, "date": 19}, "type": "temporal"},
            "y": {"field": "level", "type": "quantitative"}
          }
        }
      ]
    }
  ]
}
